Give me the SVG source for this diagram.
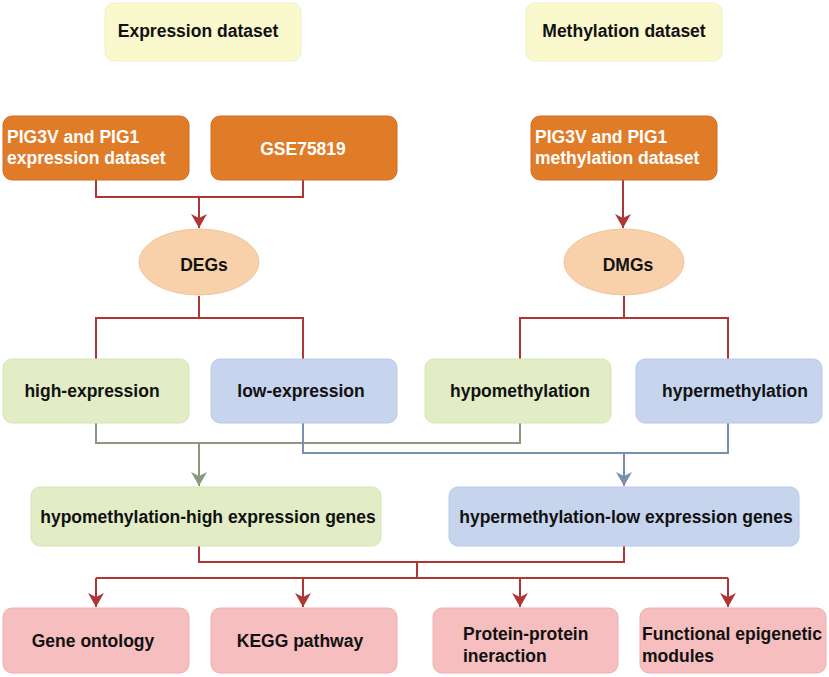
<svg xmlns="http://www.w3.org/2000/svg" width="829" height="677" viewBox="0 0 829 677">
<defs>
<style>
text{font-family:"Liberation Sans",Arial,sans-serif;font-weight:bold;font-size:17.5px;fill:#111;}
.w{fill:#fff;}
.c{text-anchor:middle;}
.yel{fill:#FAF8CD;stroke:#F2EFC0;stroke-width:1;}
.org{fill:#E07B28;stroke:#D06F22;stroke-width:1;}
.grn{fill:#E2EDC6;stroke:#D6E3B8;stroke-width:1;}
.blu{fill:#C6D4EE;stroke:#B8C8E6;stroke-width:1;}
.pnk{fill:#F6BEBE;stroke:#EDB0B0;stroke-width:1;}
.ell{fill:#F8D0AA;stroke:#F1C49A;stroke-width:1;}
.lr{fill:none;stroke:#B03535;stroke-width:2;}
.lg{fill:none;stroke:#8C9A7C;stroke-width:2;}
.lb{fill:none;stroke:#7A90B0;stroke-width:2;}
</style>
<marker id="ar" viewBox="0 0 16 14" refX="8" refY="14" markerWidth="16" markerHeight="14" markerUnits="userSpaceOnUse">
<path d="M0,0 L8,4 L16,0 L8,14 Z" fill="#B03535"/>
</marker>
<marker id="ag" viewBox="0 0 16 14" refX="8" refY="14" markerWidth="16" markerHeight="14" markerUnits="userSpaceOnUse">
<path d="M0,0 L8,4 L16,0 L8,14 Z" fill="#8C9A7C"/>
</marker>
<marker id="ab" viewBox="0 0 16 14" refX="8" refY="14" markerWidth="16" markerHeight="14" markerUnits="userSpaceOnUse">
<path d="M0,0 L8,4 L16,0 L8,14 Z" fill="#7A90B0"/>
</marker>
</defs>

<g id="connectors">
<path class="lr" d="M96,180 V197 H303 V180"/>
<path class="lr" d="M199,197 V228" marker-end="url(#ar)"/>
<path class="lr" d="M623,180 V228" marker-end="url(#ar)"/>
<path class="lr" d="M199,296 V318 M96,359 V318 H303 V359"/>
<path class="lr" d="M624,296 V318 M520,359 V318 H728 V359"/>
<path class="lg" d="M96,423 V443 H520 V423"/>
<path class="lg" d="M199,443 V486" marker-end="url(#ag)"/>
<path class="lb" d="M303,423 V453 H728 V423"/>
<path class="lb" d="M624,453 V486" marker-end="url(#ab)"/>
<path class="lr" d="M199,546 V562 H624 V546 M417,562 V578 M96,578 H728"/>
<path class="lr" d="M96,578 V607" marker-end="url(#ar)"/>
<path class="lr" d="M303,578 V607" marker-end="url(#ar)"/>
<path class="lr" d="M520,578 V607" marker-end="url(#ar)"/>
<path class="lr" d="M728,578 V607" marker-end="url(#ar)"/>
</g>

<g id="expression-dataset">
<rect class="yel" x="105" y="3" width="196" height="58" rx="9"/>
<text x="198" y="37" class="c">Expression dataset</text>
</g>
<g id="methylation-dataset">
<rect class="yel" x="526" y="3" width="196" height="58" rx="9"/>
<text x="624" y="37" class="c">Methylation dataset</text>
</g>

<g id="pig-expression">
<rect class="org" x="3" y="116" width="186" height="64" rx="9"/>
<text x="7" y="143" class="w">PIG3V and PIG1</text>
<text x="7" y="164" class="w">expression dataset</text>
</g>
<g id="gse75819">
<rect class="org" x="211" y="116" width="186" height="64" rx="9"/>
<text x="303" y="155" class="w c">GSE75819</text>
</g>
<g id="pig-methylation">
<rect class="org" x="531" y="116" width="186" height="64" rx="9"/>
<text x="535" y="143" class="w">PIG3V and PIG1</text>
<text x="535" y="164" class="w">methylation dataset</text>
</g>

<g id="degs">
<ellipse class="ell" cx="199" cy="262" rx="60" ry="33"/>
<text x="204" y="271" class="c">DEGs</text>
</g>
<g id="dmgs">
<ellipse class="ell" cx="624" cy="262" rx="60" ry="33"/>
<text x="628" y="271" class="c">DMGs</text>
</g>

<g id="high-expression">
<rect class="grn" x="3" y="359" width="186" height="64" rx="9"/>
<text x="92" y="397" class="c">high-expression</text>
</g>
<g id="low-expression">
<rect class="blu" x="211" y="359" width="186" height="64" rx="9"/>
<text x="301" y="397" class="c">low-expression</text>
</g>
<g id="hypomethylation">
<rect class="grn" x="425" y="359" width="186" height="64" rx="9"/>
<text x="520" y="397" class="c">hypomethylation</text>
</g>
<g id="hypermethylation">
<rect class="blu" x="636" y="359" width="186" height="64" rx="9"/>
<text x="735" y="397" class="c">hypermethylation</text>
</g>

<g id="hypo-high">
<rect class="grn" x="31" y="487" width="350" height="59" rx="9"/>
<text x="208" y="523" class="c">hypomethylation-high expression genes</text>
</g>
<g id="hyper-low">
<rect class="blu" x="449" y="487" width="350" height="59" rx="9"/>
<text x="626" y="523" class="c">hypermethylation-low expression genes</text>
</g>

<g id="gene-ontology">
<rect class="pnk" x="3" y="608" width="186" height="65" rx="9"/>
<text x="93" y="647" class="c">Gene ontology</text>
</g>
<g id="kegg">
<rect class="pnk" x="211" y="608" width="186" height="65" rx="9"/>
<text x="300" y="647" class="c">KEGG pathway</text>
</g>
<g id="ppi">
<rect class="pnk" x="433" y="608" width="185" height="65" rx="9"/>
<text x="463" y="640">Protein-protein</text>
<text x="463" y="662">ineraction</text>
</g>
<g id="functional">
<rect class="pnk" x="640" y="608" width="186" height="65" rx="9"/>
<text x="642" y="640">Functional epigenetic</text>
<text x="642" y="662">modules</text>
</g>
</svg>
